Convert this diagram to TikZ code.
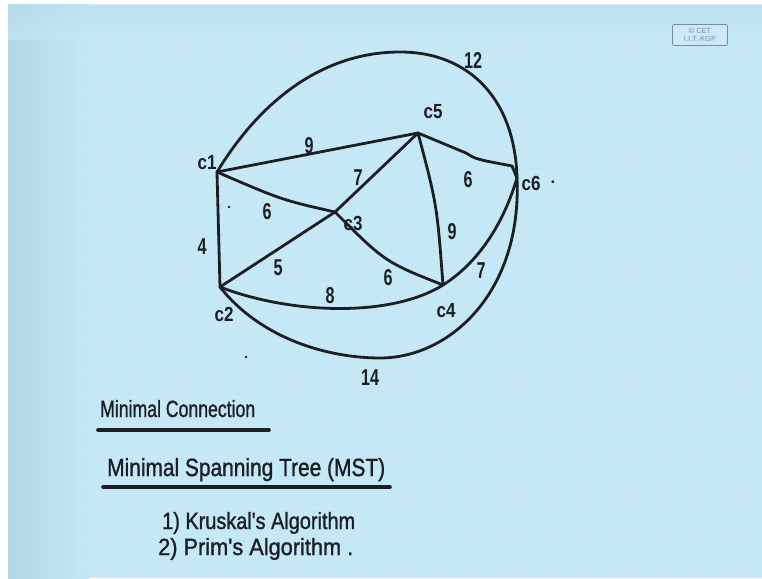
\documentclass[tikz,border=0pt]{standalone}
\usepackage{fontspec}
\usepackage{graphicx}
\setmainfont{Liberation Sans}
\newfontfamily\hwfont[FakeBold=1.3]{Liberation Sans}
\definecolor{ink}{HTML}{1B1F24}
\definecolor{board}{HTML}{C4E8F6}
\definecolor{boarddark}{HTML}{B0D8E4}
\definecolor{boardtop}{HTML}{BBDEEA}
\definecolor{logoc}{HTML}{6F8FA8}
\definecolor{logofill}{HTML}{CDE9F5}
\newcommand{\hwlab}[1]{\scalebox{1}[1.2]{#1}}
\newcommand{\hwnum}[1]{\scalebox{0.95}[1.35]{#1}}
\begin{document}
\begin{tikzpicture}[x=1pt,y=-1pt,
  edge/.style={draw=ink, line width=2.8pt, line cap=round, line join=round},
  uline/.style={draw=ink, line width=3.6pt, line cap=round},
  wlab/.style={font=\bfseries\fontsize{17}{17}\selectfont, text=ink, inner sep=0pt},
  vlab/.style={font=\bfseries\fontsize{17}{17}\selectfont, text=ink, inner sep=0pt},
  htext/.style={text=ink, inner sep=0pt, anchor=base west, font=\hwfont},
  straydot/.style={circle, fill=ink, inner sep=0pt, minimum size=2.6pt}]
\useasboundingbox (0,0) rectangle (762,578);
% board background
\fill[white] (0,0) rectangle (762,578);
\fill[board] (8,5) rectangle (762,578);
\shade[left color=boarddark, right color=board] (8,5) rectangle (90,578);
\shade[top color=boardtop, bottom color=board, opacity=0.6] (8,5) rectangle (762,40);
\foreach \gx in {50,78,...,762} \draw[white, opacity=0.09, line width=0.8pt] (\gx,32) -- (\gx,578);
\foreach \gy in {32,60,...,578} \draw[white, opacity=0.09, line width=0.8pt] (50,\gy) -- (762,\gy);
% logo
\node[draw=logoc, rounded corners=2pt, line width=0.8pt, fill=logofill, align=center,
  font=\fontsize{7.5}{7.5}\selectfont, text=logoc, minimum width=55pt, minimum height=21pt,
  inner sep=1pt] (logo) at (700,35) {© CET\\I.I.T. KGP};
% vertices
\coordinate (c1) at (217,172);
\coordinate (c2) at (220,287);
\coordinate (c3) at (335,212);
\coordinate (c4) at (443,285);
\coordinate (c5) at (418,133);
\coordinate (c6) at (517,178);
% edges
\draw[edge] (c1) -- (c5);
\draw[edge] (c1) .. controls (282,200) .. (c3);
\draw[edge] (c1) -- (c2);
\draw[edge] (c5) -- (c3);
\draw[edge] (c2) -- (c3);
\draw[edge] (c3) .. controls (385,262) .. (c4);
\draw[edge] (c5) .. controls (437,205) .. (c4);
\draw[edge] (c5) -- (466,153) .. controls (474,158) .. (486,161) -- (512,166) -- (c6);
\draw[edge] (c2) .. controls (290,314) and (390,318) .. (c4);
\draw[edge] (c4) .. controls (470,268) and (500,235) .. (c6);
\draw[edge] (c1) .. controls (262,98) and (325,52) .. (400,52) .. controls (470,52) and (515,100) .. (c6);
\draw[edge] (c2) .. controls (262,340) and (330,358) .. (380,358) .. controls (450,358) and (522,292) .. (c6);
% vertex labels
\node[vlab] (l1) at (207,163) {\hwlab{c1}};
\node[vlab] (l2) at (224,314) {\hwlab{c2}};
\node[vlab] (l3) at (353,223) {\hwlab{c3}};
\node[vlab] (l4) at (446,311) {\hwlab{c4}};
\node[vlab] (l5) at (433,112) {\hwlab{c5}};
\node[vlab] (l6) at (531,183) {\hwlab{c6}};
\node[vlab] (l6dot) at (553,182) {.};
% weights
\node[wlab] (w15) at (309,146) {\hwnum{9}};
\node[wlab] (w13) at (267,212) {\hwnum{6}};
\node[wlab] (w12) at (202,247) {\hwnum{4}};
\node[wlab] (w53) at (358,178) {\hwnum{7}};
\node[wlab] (w56) at (468,180) {\hwnum{6}};
\node[wlab] (w54) at (452,232) {\hwnum{9}};
\node[wlab] (w34) at (388,278) {\hwnum{6}};
\node[wlab] (w23) at (278,268) {\hwnum{5}};
\node[wlab] (w24) at (330,296) {\hwnum{8}};
\node[wlab] (w46) at (481,271) {\hwnum{7}};
\node[wlab] (w16) at (473,60) {\hwnum{12}};
\node[wlab] (w26) at (370,378) {\hwnum{14}};
% stray dots
\node[straydot] (d1) at (229,207) {};
\node[straydot] (d2) at (246,357) {};
% text
\node[htext] (t1) at (100,417) {\resizebox{155pt}{17pt}{Minimal Connection}};
\coordinate (u1a) at (98,430);
\coordinate (u1b) at (269,430);
\draw[uline] (u1a) -- (u1b);
\node[htext] (t2) at (107,476) {\resizebox{278pt}{18pt}{Minimal Spanning Tree (MST)}};
\coordinate (u2a) at (103,487);
\coordinate (u2b) at (390,487);
\draw[uline] (u2a) -- (u2b);
\node[htext] (t3) at (162,529) {\resizebox{193pt}{17pt}{1) Kruskal's Algorithm}};
\node[htext] (t4) at (158,555) {\resizebox{195pt}{17pt}{2) Prim's Algorithm .}};
\end{tikzpicture}
\end{document}
